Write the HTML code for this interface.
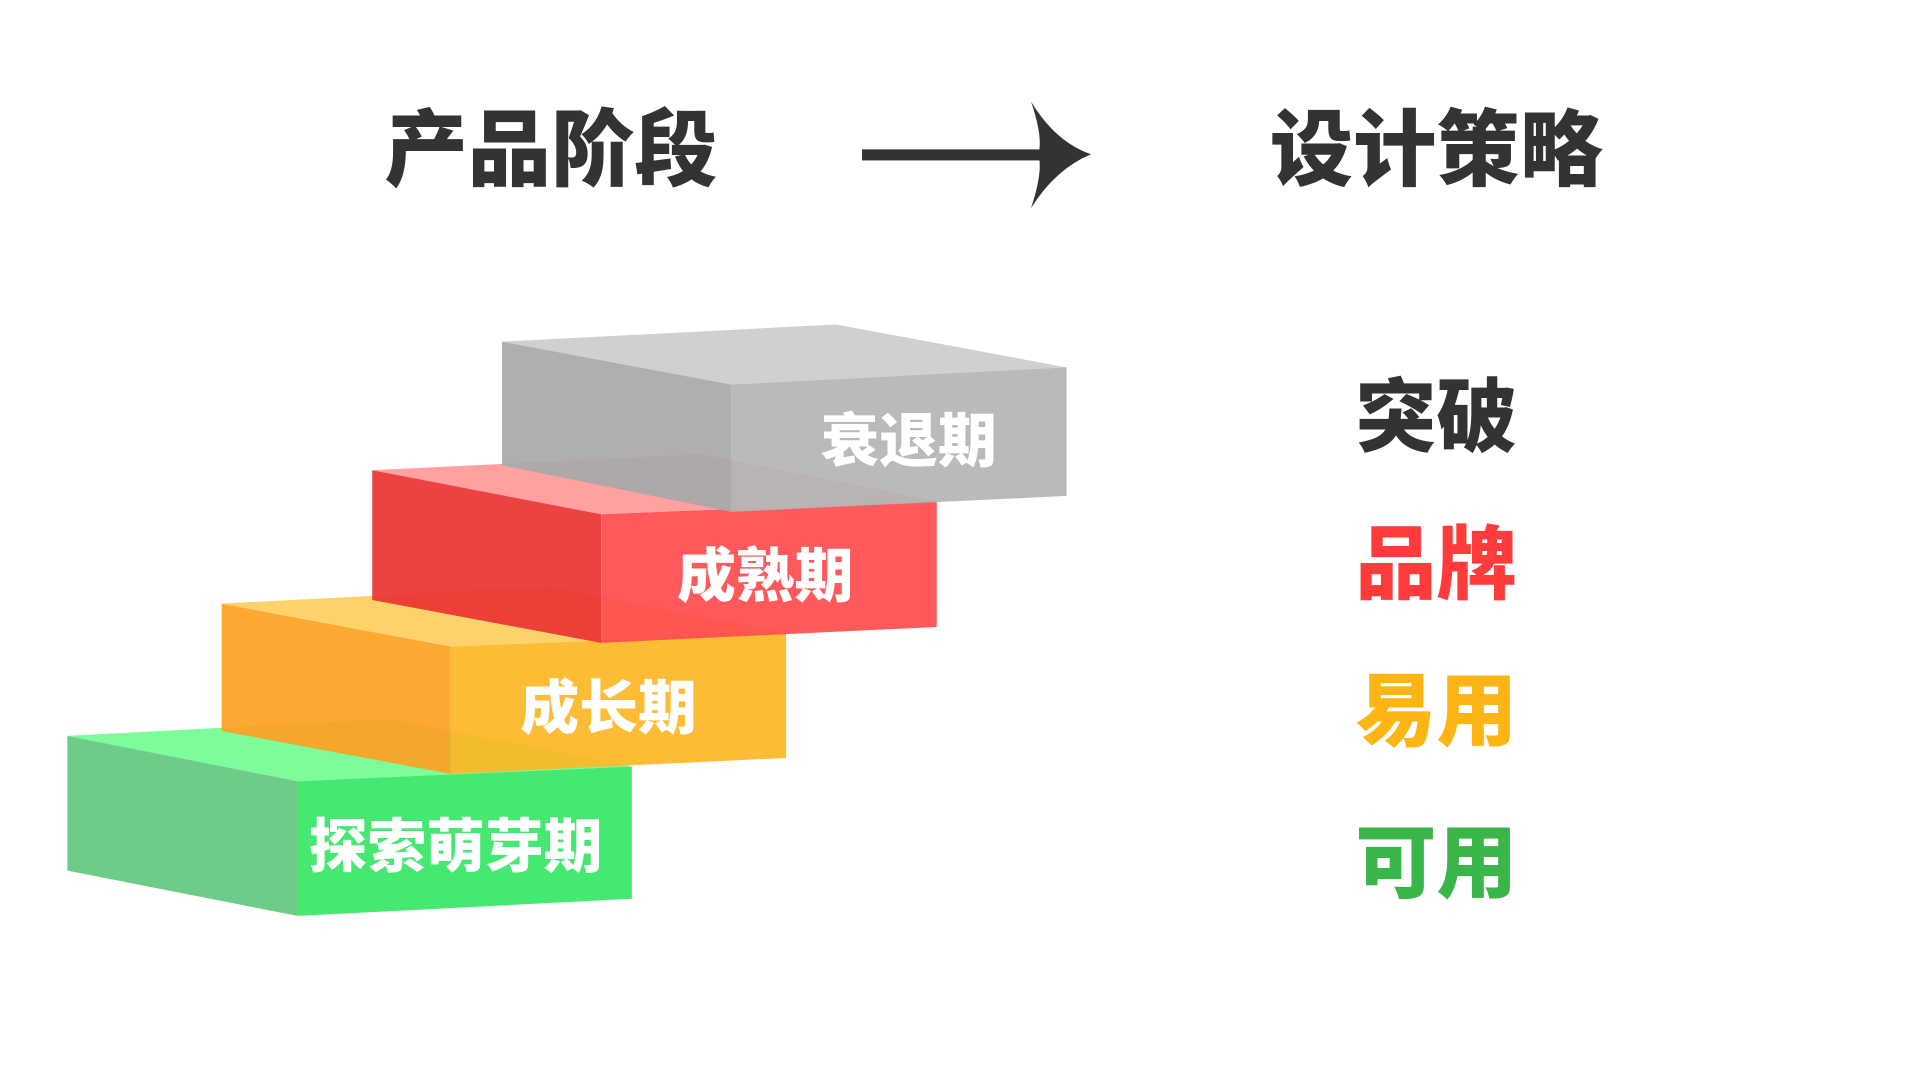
<!DOCTYPE html>
<html><head><meta charset="utf-8"><style>
html,body{margin:0;padding:0;background:#fff;width:1920px;height:1080px;overflow:hidden}
svg{display:block}
text{font-family:"Liberation Sans","Noto Sans CJK SC",sans-serif;font-weight:900}
</style></head><body>
<svg width="1920" height="1080" viewBox="0 0 1568 882" preserveAspectRatio="none">
<text x="450" y="146" font-size="68" fill="#333" text-anchor="middle">产品阶段</text>
<text x="1173" y="146" font-size="68" fill="#333" text-anchor="middle">设计策略</text>
<rect x="704" y="122" width="150" height="9" fill="#333"/>
<path d="M842,83 Q862,116 891,126 Q862,138 842,170 Q852,140 848,126 Q852,112 842,83Z" fill="#333"/>

<g>
<polygon points="55,601 320,587 516,626 243,638" fill="#7cfc9a"/>
<polygon points="55,601 243,638 243,748 55,711" fill="#6dcc88"/>
<polygon points="243,638 516,626 516,734 243,748" fill="#45e870"/>
</g>
<g opacity="0.93">
<polygon points="181,493 448,479 642,517 368,528" fill="#fecf60"/>
<polygon points="181,493 368,528 368,632 181,597" fill="#fda223"/>
<polygon points="368,528 642,517 642,619 368,632" fill="#fdb827"/>
</g>
<g opacity="0.93">
<polygon points="304,384 573,371 765,409 491,420" fill="#ff9a9a"/>
<polygon points="304,384 491,420 491,525 304,490" fill="#ea3434"/>
<polygon points="491,420 765,409 765,512 491,525" fill="#ff4d4f"/>
</g>
<g opacity="0.93">
<polygon points="410,279 683,265 871,300 597,314" fill="#cdcdcd"/>
<polygon points="410,279 597,314 597,418 410,380" fill="#a9a9a9"/>
<polygon points="597,314 871,300 871,405 597,418" fill="#b5b5b5"/>
</g>

<g fill="#fff" font-size="48" text-anchor="middle">
<text x="742" y="377">衰退期</text>
<text x="625" y="487">成熟期</text>
<text x="497" y="595">成长期</text>
<text x="372" y="708">探索萌芽期</text>
</g>

<g font-size="66" text-anchor="middle">
<text x="1173" y="364" fill="#333">突破</text>
<text x="1173" y="484" fill="#ff3b3b">品牌</text>
<text x="1173" y="604" fill="#fdb515">易用</text>
<text x="1173" y="728" fill="#3ab54a">可用</text>
</g>
</svg>
</body></html>
